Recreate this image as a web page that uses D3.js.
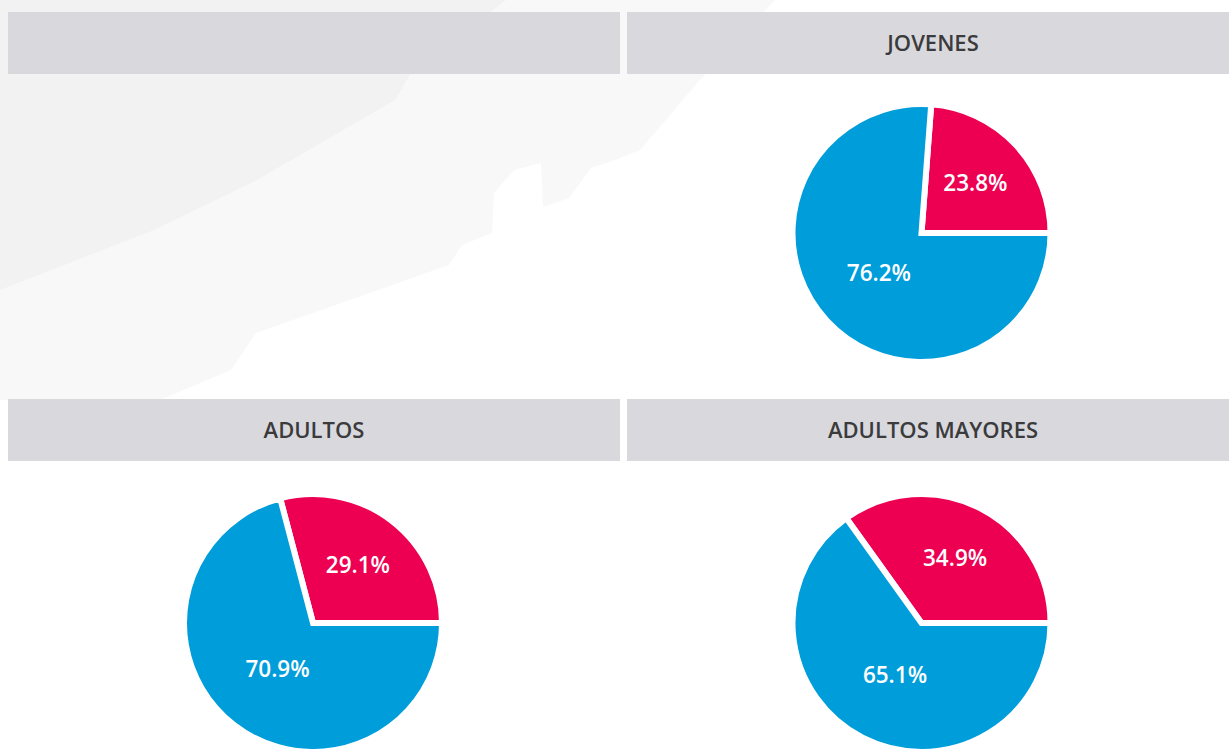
<!DOCTYPE html>
<html>
<head>
<meta charset="utf-8">
<script src="https://cdn.jsdelivr.net/npm/d3@7"></script>
<style>
  body { margin: 0; background: #fff; overflow: hidden; }
  svg { display: block; font-family: "Open Sans", sans-serif; }
</style>
</head>
<body>
<div id="chart"></div>
<script>
// Panel titles (the first panel has an empty header)
let titles = ["", "JOVENES", "ADULTOS", "ADULTOS MAYORES"];

// Share of each group, in percent: [red slice, blue slice]
let redValues = [null, 23.8, 29.1, 34.9];
let blueValues = [null, 76.2, 70.9, 65.1];

let colors = ["#ed0052", "#009ddb"];

let width = 1229,
    height = 749;

let panelWidth = 612,
    panelGap = 7,
    headerHeight = 62,
    rowTops = [12, 399],
    pieOffsets = [221, 224],
    radius = 129;

let svg = d3.select("#chart").append("svg")
    .attr("width", width)
    .attr("height", height);

// Faint photo watermark in the top left corner
let lightShape = [[0, 0], [775, 0], [700, 80], [640, 150], [615, 160], [591, 168], [569, 198],
    [543, 207], [541, 163], [514, 170], [494, 193], [492, 233], [462, 245], [449, 265],
    [256, 333], [231, 370], [160, 400], [0, 400]];
let darkShape = [[0, 0], [506, 0], [411, 73], [395, 100], [257, 180], [154, 230], [0, 290]];

svg.append("path")
    .attr("d", d3.line()(lightShape) + "Z")
    .attr("fill", "#f8f8f8");
svg.append("path")
    .attr("d", d3.line()(darkShape) + "Z")
    .attr("fill", "#f2f2f2");

let arc = d3.arc()
    .innerRadius(0)
    .outerRadius(radius);

titles.forEach(function (title, i) {
    let col = i % 2,
        row = Math.floor(i / 2);
    let x0 = 8 + col * (panelWidth + panelGap),
        y0 = rowTops[row];

    // Grey header bar
    svg.append("rect")
        .attr("x", x0)
        .attr("y", y0)
        .attr("width", panelWidth)
        .attr("height", headerHeight)
        .attr("fill", "#d9d9dd");

    svg.append("text")
        .attr("x", x0 + panelWidth / 2)
        .attr("y", y0 + headerHeight / 2)
        .attr("dy", "0.36em")
        .attr("text-anchor", "middle")
        .style("font-size", "22px")
        .style("font-weight", 600)
        .style("fill", "#3b3b3d")
        .text(title);

    if (redValues[i] == null) return;

    let data = [redValues[i], blueValues[i]];
    let total = d3.sum(data);

    // The red slice always ends at 3 o'clock
    let start = Math.PI / 2 - 2 * Math.PI * data[0] / total;
    let pie = d3.pie()
        .sort(null)
        .startAngle(start)
        .endAngle(start + 2 * Math.PI);

    let cx = col == 0 ? x0 + panelWidth / 2 - 1 : x0 + panelWidth / 2 - 11.5;
    let cy = y0 + pieOffsets[row];

    let g = svg.append("g")
        .attr("transform", "translate(" + cx + "," + cy + ")");

    let arcs = g.selectAll(".arc")
        .data(pie(data))
        .enter().append("g")
        .attr("class", "arc");

    arcs.append("path")
        .attr("d", arc)
        .attr("fill", function (d, j) { return colors[j]; })
        .attr("stroke", "#fff")
        .attr("stroke-width", 6)
        .attr("stroke-linejoin", "miter");

    // Labels sit along the middle of each slice
    arcs.append("text")
        .attr("transform", function (d, j) {
            let r = j == 0 ? 0.57 * radius : 0.45 * radius;
            let a = (d.startAngle + d.endAngle) / 2;
            return "translate(" + (r * Math.sin(a)) + "," + (-r * Math.cos(a)) + ")";
        })
        .attr("dy", "0.36em")
        .attr("text-anchor", "middle")
        .style("font-size", "22.5px")
        .style("font-weight", 600)
        .style("fill", "#fff")
        .text(function (d) { return d.data.toFixed(1) + "%"; });
});
</script>
</body>
</html>
